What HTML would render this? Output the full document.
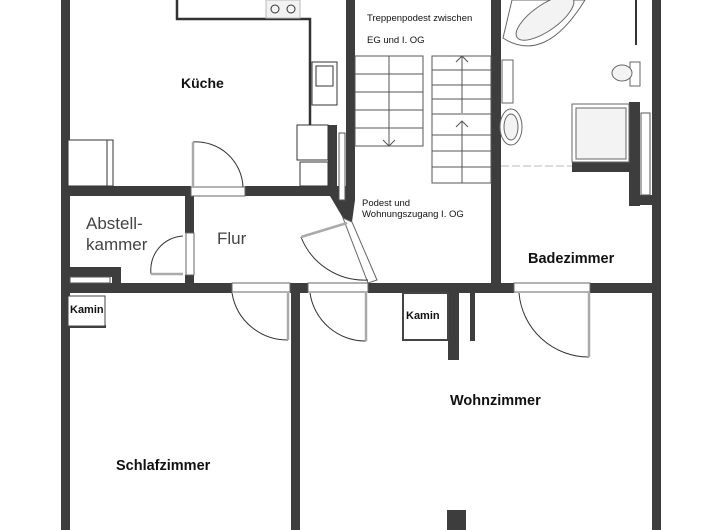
<!DOCTYPE html>
<html><head><meta charset="utf-8"><style>
html,body{margin:0;padding:0;background:#fff;width:720px;height:530px;overflow:hidden}
text{font-family:"Liberation Sans",sans-serif;fill:#111}
.b{font-weight:bold;font-size:14.5px}
</style></head><body>
<svg width="720" height="530" viewBox="0 0 720 530" xmlns="http://www.w3.org/2000/svg">
<g fill="#3d3d3d">
<rect x="61" y="0" width="9" height="530"/>
<rect x="652" y="0" width="9" height="530"/>
<rect x="61" y="186" width="130" height="10"/>
<rect x="245" y="186" width="90" height="10"/>
<rect x="328" y="125" width="9" height="71"/>
<rect x="346" y="0" width="9" height="200"/>
<polygon points="330,186 355,186 355,200 352,222 343,218 330,196"/>
<rect x="185" y="196" width="9" height="37"/>
<rect x="185" y="275" width="9" height="10"/>
<rect x="61" y="267" width="60" height="10"/>
<rect x="112" y="267" width="9" height="20"/>
<rect x="491" y="0" width="10" height="293"/>
<rect x="629" y="102" width="11" height="104"/>
<rect x="629" y="195" width="32" height="10"/>
<rect x="572" y="162" width="60" height="10"/>
<rect x="61" y="283" width="171" height="10"/>
<rect x="290" y="283" width="18" height="10"/>
<rect x="368" y="283" width="146" height="10"/>
<rect x="590" y="283" width="71" height="10"/>
<rect x="291" y="283" width="9" height="247"/>
<rect x="448" y="293" width="11" height="67"/>
<rect x="470" y="293" width="5" height="48"/>
<rect x="447" y="510" width="19" height="20"/>
<rect x="68" y="325" width="38" height="3"/>
</g>
<rect x="339" y="133" width="6" height="67" fill="#fff" stroke="#555"/>
<rect x="641" y="113" width="9" height="82" fill="#fff" stroke="#555"/>
<rect x="70" y="277" width="40" height="6" fill="#fff" stroke="#555"/>
<g fill="#fff" stroke="#666" stroke-width="1">
<rect x="191" y="187" width="54" height="9"/>
<rect x="232" y="283" width="58" height="9"/>
<rect x="308" y="283" width="60" height="9"/>
<rect x="514" y="283" width="76" height="9"/>
<rect x="186" y="233" width="8" height="42"/>
<polygon points="343,218 352,222 377,280 368,283"/>
</g>
<g fill="none" stroke="#333" stroke-width="1">
<path d="M193,142 A47,47 0 0 1 243,187"/>
<path d="M183,236 A34,34 0 0 0 151,274"/>
<path d="M232,293 A56,56 0 0 0 288,340"/>
<path d="M310,293 A56,56 0 0 0 366,341"/>
<path d="M519,293 A70,70 0 0 0 589,357"/>
<path d="M301,237 A68,68 0 0 0 368,280"/>
</g>
<g stroke="#aaa" stroke-width="2.5">
<line x1="193" y1="142" x2="193" y2="187"/>
<line x1="151" y1="274" x2="183" y2="274"/>
<line x1="288" y1="293" x2="288" y2="340"/>
<line x1="366" y1="293" x2="366" y2="341"/>
<line x1="589" y1="293" x2="589" y2="357"/>
<line x1="347" y1="223" x2="301" y2="237"/>
</g>
<g fill="none" stroke="#333" stroke-width="1">
<polyline points="177,0 177,19 310,19 310,125" stroke-width="2.5"/>
<rect x="266" y="0" width="34" height="18" fill="#f2f2f2" stroke="#bbb"/>
<circle cx="275" cy="9" r="4"/><circle cx="291" cy="9" r="4"/>
<rect x="312" y="62" width="25" height="43" fill="#fff"/>
<rect x="316" y="66" width="17" height="20"/>
<rect x="297" y="125" width="31" height="35" fill="#fff"/>
<rect x="300" y="162" width="28" height="24" fill="#fff"/>
<rect x="68" y="140" width="45" height="46" fill="#fff"/>
<line x1="107" y1="140" x2="107" y2="186"/>
</g>
<g stroke="#555" stroke-width="1" fill="none">
<rect x="355" y="56" width="68" height="90"/>
<line x1="355" y1="74" x2="423" y2="74"/><line x1="355" y1="92" x2="423" y2="92"/>
<line x1="355" y1="110" x2="423" y2="110"/><line x1="355" y1="128" x2="423" y2="128"/>
<line x1="389" y1="56" x2="389" y2="146"/>
<polyline points="383,140 389,146 395,140"/>
<rect x="432" y="56" width="59" height="127"/>
<line x1="432" y1="70" x2="491" y2="70"/><line x1="432" y1="85" x2="491" y2="85"/>
<line x1="432" y1="99" x2="491" y2="99"/><line x1="432" y1="114" x2="491" y2="114"/>
<line x1="432" y1="135" x2="491" y2="135"/><line x1="432" y1="151" x2="491" y2="151"/>
<line x1="432" y1="167" x2="491" y2="167"/>
<line x1="462" y1="56" x2="462" y2="113"/><polyline points="456,62 462,56 468,62"/>
<line x1="462" y1="121" x2="462" y2="183"/><polyline points="456,127 462,121 468,127"/>
</g>
<g stroke="#666" stroke-width="1" fill="#f3f3f3">
<path d="M503,38 Q545,65 585,0 L512,0 Z" fill="#fff"/>
<ellipse cx="545" cy="18" rx="34" ry="13" transform="rotate(-35 545 18)"/>
<rect x="502" y="60" width="11" height="43" fill="#fff"/>
<ellipse cx="511" cy="127" rx="11" ry="18" fill="#fff"/>
<ellipse cx="511" cy="127" rx="7" ry="13"/>
<rect x="630" y="62" width="10" height="24" fill="#fff"/>
<ellipse cx="622" cy="73" rx="10" ry="8"/>
<rect x="572" y="104" width="57" height="58" fill="#fff"/>
<rect x="576" y="108" width="50" height="51"/>
</g>
<line x1="636" y1="0" x2="636" y2="45" stroke="#333" stroke-width="2"/>
<line x1="501" y1="166" x2="572" y2="166" stroke="#bbb" stroke-width="1" stroke-dasharray="8,3"/>
<rect x="68" y="296" width="37" height="30" fill="#fff" stroke="#444"/>
<rect x="403" y="293" width="45" height="47" fill="#fff" stroke="#444" stroke-width="2"/>
<text x="181" y="88" class="b" style="font-size:14px">Küche</text>
<text x="86" y="229" style="font-size:17px;fill:#444">Abstell-</text>
<text x="86" y="250" style="font-size:17px;fill:#444">kammer</text>
<text x="217" y="244" style="font-size:17px;fill:#444">Flur</text>
<text x="367" y="21" style="font-size:9.5px">Treppenpodest zwischen</text>
<text x="367" y="43" style="font-size:9.5px">EG und I. OG</text>
<text x="362" y="206" style="font-size:9.5px">Podest und</text>
<text x="362" y="217" style="font-size:9.5px">Wohnungszugang I. OG</text>
<text x="528" y="263" class="b">Badezimmer</text>
<text x="450" y="405" class="b">Wohnzimmer</text>
<text x="116" y="470" class="b">Schlafzimmer</text>
<text x="70" y="313" style="font-size:11px;font-weight:bold">Kamin</text>
<text x="406" y="319" style="font-size:11px;font-weight:bold">Kamin</text>
</svg>
</body></html>
